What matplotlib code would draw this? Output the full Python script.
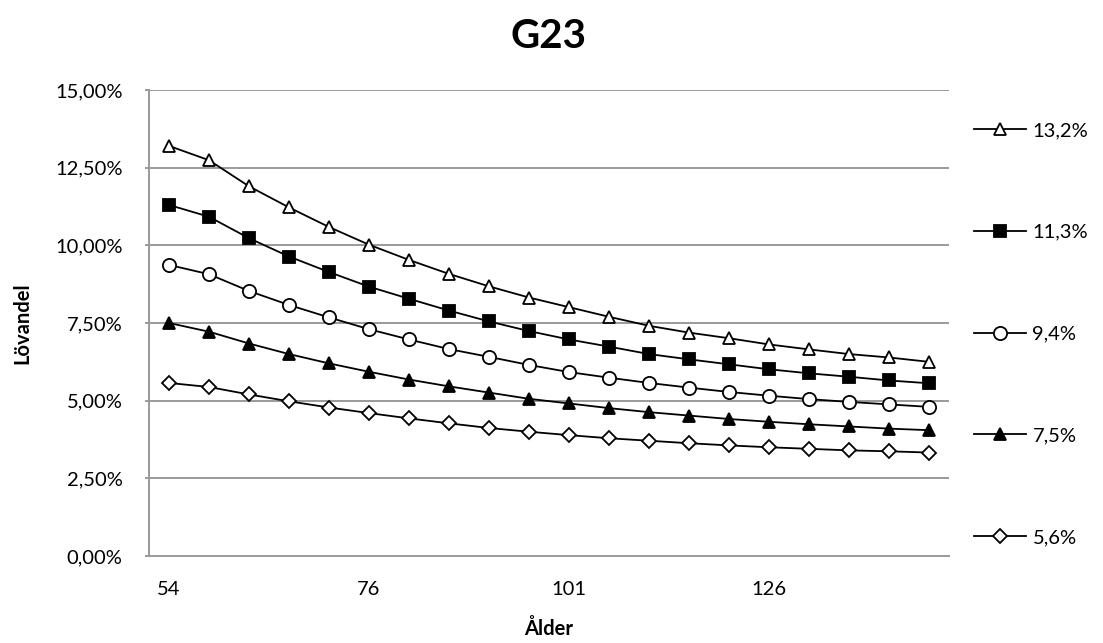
import matplotlib as mpl
import matplotlib.pyplot as plt
from matplotlib.ticker import FuncFormatter, FixedLocator

mpl.rc('font', family=['Lato', 'DejaVu Sans'])

# Ålder categories (only every 5th is labelled on the axis)
ages = [54, 58, 63, 67, 72, 76, 81, 86, 91, 96,
        101, 106, 111, 116, 121, 126, 131, 136, 141, 146]

# Lövandel in percent, one series per starting share
s132 = [13.20, 12.74, 11.90, 11.22, 10.59, 10.02, 9.53, 9.08, 8.68, 8.32,
        8.01, 7.70, 7.41, 7.19, 7.01, 6.81, 6.65, 6.50, 6.39, 6.25]
s113 = [11.30, 10.92, 10.23, 9.64, 9.14, 8.67, 8.28, 7.90, 7.55, 7.24,
        6.97, 6.74, 6.50, 6.33, 6.17, 6.01, 5.88, 5.77, 5.65, 5.56]
s94 = [9.37, 9.07, 8.53, 8.08, 7.68, 7.30, 6.97, 6.66, 6.41, 6.15,
       5.92, 5.74, 5.57, 5.42, 5.28, 5.16, 5.05, 4.96, 4.88, 4.80]
s75 = [7.50, 7.22, 6.84, 6.50, 6.20, 5.93, 5.68, 5.46, 5.26, 5.06,
       4.91, 4.76, 4.63, 4.52, 4.41, 4.32, 4.24, 4.17, 4.10, 4.05]
s56 = [5.57, 5.44, 5.20, 4.98, 4.78, 4.60, 4.43, 4.27, 4.12, 4.00,
       3.89, 3.79, 3.71, 3.63, 3.56, 3.50, 3.45, 3.40, 3.37, 3.33]

labels = ['13,2%', '11,3%', '9,4%', '7,5%', '5,6%']
series = [s132, s113, s94, s75, s56]
markers = ['^', 's', 'o', '^', 'D']
fills = ['white', 'black', 'white', 'black', 'white']
msizes = [9, 9, 9.5, 9, 7]

fs = 14.5

fig = plt.figure(figsize=(11.03, 6.43), dpi=100)
ax = fig.add_axes([149/1103, 87/643, 800/1103, 466/643])

x = list(range(len(ages)))
handles = []
for ys, lab, m, fc, ms in zip(series, labels, markers, fills, msizes):
    h, = ax.plot(x, ys, color='black', lw=1.3, marker=m, markersize=ms,
                 markerfacecolor=fc, markeredgecolor='black', markeredgewidth=1.3,
                 label=lab, zorder=3)
    handles.append(h)

ax.set_xlim(-0.5, len(ages) - 0.5)
ax.set_ylim(0, 15)
ax.yaxis.set_major_locator(FixedLocator([0, 2.5, 5, 7.5, 10, 12.5, 15]))
ax.yaxis.set_major_formatter(FuncFormatter(lambda v, p: f'{v:.2f}%'.replace('.', ',')))
ax.set_xticks(x[::5])
ax.set_xticklabels([str(a) for a in ages[::5]])

ax.grid(axis='y', color='#9a9a9a', lw=1.4, zorder=0)
for s in ['top', 'right']:
    ax.spines[s].set_visible(False)
for s in ['left', 'bottom']:
    ax.spines[s].set_color('#9a9a9a')
    ax.spines[s].set_linewidth(1.4)
ax.tick_params(axis='y', length=3, width=1.4, color='#9a9a9a', pad=16, labelsize=fs)
ax.tick_params(axis='x', length=0, pad=18, labelsize=fs)

ax.set_title('G23', fontsize=29, fontweight='bold', pad=30)
ax.set_xlabel('Ålder', fontsize=fs, fontweight='bold')
ax.xaxis.set_label_coords(0.5, -0.135)
ax.set_ylabel('Lövandel', fontsize=fs, fontweight='bold')
ax.yaxis.set_label_coords(-0.146, 0.5)

fig.legend(handles=handles, loc='center left', bbox_to_anchor=(974/1103, 1 - 334/643),
           frameon=False, fontsize=fs, labelspacing=4.2, handlelength=2.6,
           handletextpad=0.3, borderpad=0, borderaxespad=0)

plt.savefig('out.png', dpi=100)
